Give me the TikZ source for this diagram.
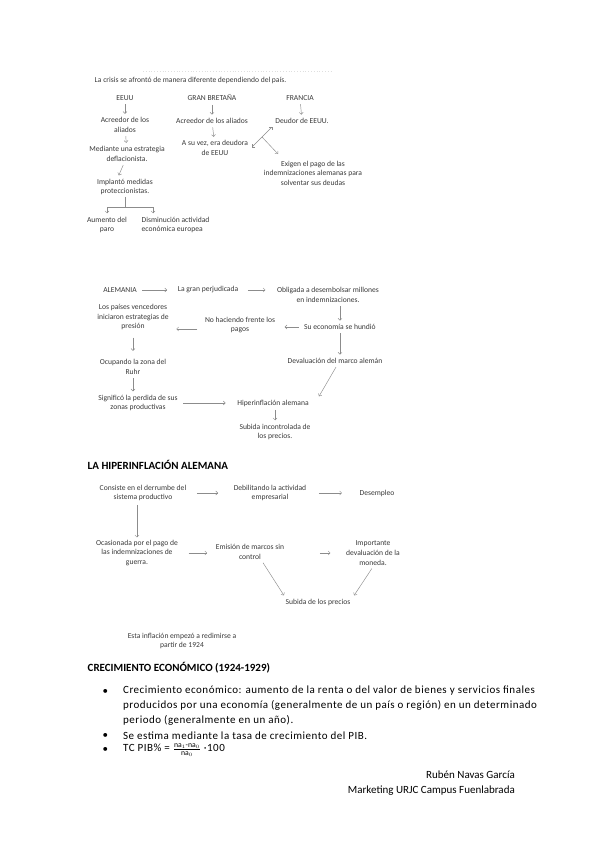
\documentclass[tikz,border=0pt]{standalone}
\usepackage{amsmath}
\usepackage{fontspec}
\setmainfont{Carlito}
\newfontfamily\bodyfont[LetterSpace=4.5]{Carlito}
\usepackage{xcolor}
\usepackage{tikz}
\usetikzlibrary{arrows.meta}
\definecolor{inkGray}{HTML}{3A3A3A}
\definecolor{lineGray}{HTML}{8C8C8C}
\newcommand{\dgfont}{\fontsize{7.6}{9.6}\selectfont}

\begin{document}
\begin{tikzpicture}[
  x=1pt, y=-1pt,
  >={Straight Barb[length=2pt,width=4pt]},
  every node/.style={font=\dgfont, text=inkGray, inner sep=1.5pt},
  tx/.style={align=center},
  hd/.style={anchor=west, font=\fontsize{11}{13}\selectfont\bfseries, text=black},
  bd/.style={anchor=west, font=\bodyfont\fontsize{11}{15}\selectfont, text=black},
  ar/.style={->, draw=lineGray, line width=0.45pt, shorten >=2pt, shorten <=2pt},
  ln/.style={draw=lineGray, line width=0.45pt},
]
  \useasboundingbox[fill=white] (0,0) rectangle (599,848);

  % crisis por paises
  \draw[gray!25, dotted, line width=0.8pt] (143,71) -- (333,71);
  \node[anchor=west] (crisis) at (93,80) {La crisis se afrontó de manera diferente dependiendo del país.};
  \node (eeuu) at (125,98) {EEUU};
  \node (gb) at (212,98) {GRAN BRETAÑA};
  \node (fr) at (300,98) {FRANCIA};
  \node[tx] (acre) at (125,125) {Acreedor de los\\aliados};
  \node[tx] (medi) at (127,154) {Mediante una estrategia\\deflacionista.};
  \node[tx] (impl) at (125,187) {Implantó medidas\\proteccionistas.};
  \node[tx] (aum) at (107,225) {Aumento del\\paro};
  \node[align=left, anchor=west] (dism) at (140,225) {Disminución actividad\\económica europea};
  \node (acregb) at (212,121) {Acreedor de los aliados};
  \node[tx] (suvez) at (215,148) {A su vez, era deudora\\de EEUU};
  \node (deud) at (302,121) {Deudor de EEUU.};
  \node[tx] (exig) at (313,173) {Exigen el pago de las\\indemnizaciones alemanas para\\solventar sus deudas};

  \draw[ar] (eeuu) -- (acre);
  \draw[ar] (acre) -- (medi);
  \draw[ar] ([xshift=-3pt]medi.south) -- ([xshift=-7pt]impl.north);
  \coordinate (br) at (125,207);
  \draw[ln] (impl) -- (br);
  \draw[ar, shorten <=0pt] (br) -| (aum);
  \draw[ar, shorten <=0pt] (br) -| ([xshift=13pt]dism.north west);
  \draw[ar] (gb) -- (acregb);
  \draw[ar] (acregb) -- (suvez);
  \draw[ar] (fr) -- (deud);
  \coordinate (vl) at (252,147);
  \coordinate (vt) at (272,127);
  \coordinate (vx) at (262,137);
  \coordinate (vb) at (278,154);
  \draw[ar, <->, shorten <=0pt, shorten >=0pt] (vl) -- (vt);
  \draw[ar, shorten <=0pt, shorten >=0pt] (vx) -- (vb);

  % alemania
  \node (alem) at (120,290) {ALEMANIA};
  \node (gran) at (208,290) {La gran perjudicada};
  \node[tx] (oblig) at (328,295) {Obligada a desembolsar millones\\en indemnizaciones.};
  \node (hund) at (340,327) {Su economía se hundió};
  \node[tx] (nohac) at (240,325) {No haciendo frente los\\pagos};
  \node[tx] (paises) at (133,317) {Los países vencedores\\iniciaron estrategias de\\presión};
  \node (devalu) at (335,361) {Devaluación del marco alemán};
  \node[tx] (ocup) at (133,367) {Ocupando la zona del\\Ruhr};
  \node[tx] (signif) at (138,403) {Significó la perdida de sus\\zonas productivas};
  \node (hiper) at (273,403) {Hiperinflación alemana};
  \node[tx] (subinc) at (275,432) {Subida incontrolada de\\los precios.};

  \draw[ar, shorten <=4pt, shorten >=9pt] (alem) -- (gran);
  \draw[ar, shorten <=8pt, shorten >=10pt] (gran.east) -- (gran.east -| oblig.west);
  \draw[ar] (hund.north |- oblig.south) -- (hund.north);
  \draw[ar, shorten <=4pt, shorten >=8pt] (hund.west) -- (nohac.east |- hund.west);
  \draw[ar, shorten <=6pt, shorten >=6pt] ([yshift=-4pt]nohac.west) -- ([yshift=-4pt]nohac.west -| paises.east);
  \draw[ar] (hund) -- (hund |- devalu.north);
  \draw[ar] ([xshift=2pt]devalu.south) -- ([xshift=45pt]hiper.north);
  \draw[ar, shorten <=6pt, shorten >=7pt] (paises.south -| ocup.north) -- (ocup.north);
  \draw[ar] (ocup) -- (ocup |- signif.north);
  \draw[ar, shorten <=4pt, shorten >=10pt] (signif.east |- hiper.west) -- (hiper.west);
  \draw[ar] (hiper.south -| subinc.north) -- (subinc.north);

  % la hiperinflacion alemana
  \node[hd] (titHiper) at (86,465) {LA HIPERINFLACIÓN ALEMANA};
  \node[tx] (cons) at (143,493) {Consiste en el derrumbe del\\sistema productivo};
  \node[tx] (debil) at (270,493) {Debilitando la actividad\\empresarial};
  \node (desem) at (377,493) {Desempleo};
  \node[tx] (ocas) at (137,553) {Ocasionada por el pago de\\las indemnizaciones de\\guerra.};
  \node[tx] (emis) at (250,552) {Emisión de marcos sin\\control};
  \node[tx] (impor) at (373,553) {Importante\\devaluación de la\\moneda.};
  \node (subpre) at (318,602) {Subida de los precios};
  \node[tx] (esta) at (182,641) {Esta inflación empezó a redimirse a\\partir de 1924};

  \draw[ar, shorten <=9pt, shorten >=14pt] (cons) -- (debil);
  \draw[ar, shorten <=11pt, shorten >=16pt] (debil) -- (desem);
  \draw[ar, shorten >=1pt] (cons.south -| ocas.north) -- (ocas.north);
  \draw[ar, shorten <=9pt, shorten >=7pt] (ocas) -- (emis.west |- ocas.east);
  \draw[ar, shorten <=34pt, shorten >=14pt] (emis.east |- impor.west) -- (impor.west);
  \draw[ar] ([xshift=12pt]emis.south) -- ([xshift=-33pt]subpre.north);
  \draw[ar] (impor.south) -- ([xshift=35pt]subpre.north);

  % crecimiento economico
  \node[hd] (titCrec) at (86,668) {CRECIMIENTO ECONÓMICO (1924-1929)};
  \node[bd] (bul1) at (101,692) {•};
  \node[bd, anchor=north west, align=left, inner sep=0pt] (txt1) at (123,686)
    {Crecimiento económico: aumento de la renta o del valor de bienes y servicios finales\\
     producidos por una economía (generalmente de un país o región) en un determinado\\
     periodo (generalmente en un año).};
  \node[bd] (bul2) at (101,736) {•};
  \node[bd, inner sep=0pt] (txt2) at (123,736) {Se estima mediante la tasa de crecimiento del PIB.};
  \node[bd] (bul3) at (101,750) {•};
  \node[bd, inner sep=0pt] (txt3) at (123,750)
    {TC PIB\% = $\frac{\mathrm{na}_1\text{-}\mathrm{na}_0}{\mathrm{na}_0}$ ·100};

  \node[anchor=north east, align=right, font=\fontsize{11}{15}\selectfont, text=black, inner sep=0pt] (firma) at (515,771)
    {Rubén Navas García\\Marketing URJC Campus Fuenlabrada};
\end{tikzpicture}
\end{document}
